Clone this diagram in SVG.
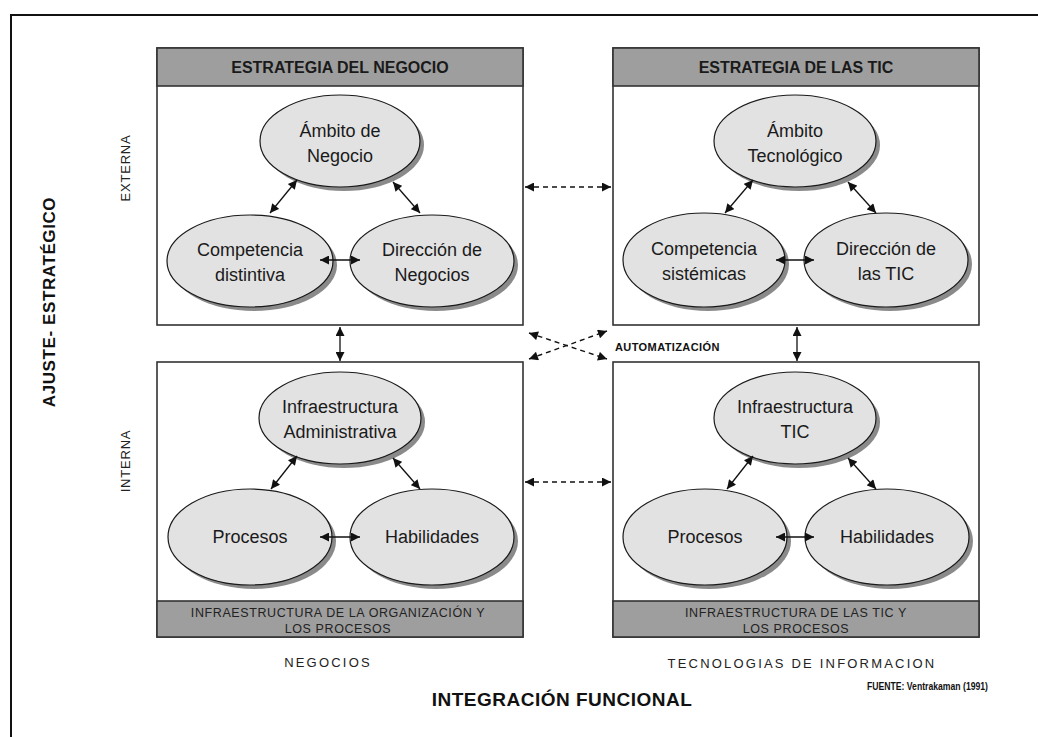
<svg xmlns="http://www.w3.org/2000/svg" width="1038" height="737" viewBox="0 0 1038 737">
<style>
.box{fill:#ffffff;stroke:#333;stroke-width:1.6}
.band{fill:#9e9e9e;stroke:#333;stroke-width:1.6}
.hdr{font-family:"Liberation Sans",Arial,sans-serif;font-weight:bold;font-size:16px;fill:#1a1a1a;text-anchor:middle}
.bandt{font-family:"Liberation Sans",Arial,sans-serif;font-size:12.5px;fill:#222;text-anchor:middle;letter-spacing:0.6px}
.ell{fill:#e2e2e2;stroke:#1a1a1a;stroke-width:1.2}
.shd{fill:#8a8a8a}
.et{font-family:"Liberation Sans",Arial,sans-serif;font-size:18px;fill:#1a1a1a;text-anchor:middle}
.lbl{font-family:"Liberation Sans",Arial,sans-serif;font-size:13px;fill:#222;text-anchor:middle;letter-spacing:0.8px}
.ax{font-family:"Liberation Sans",Arial,sans-serif;font-size:13px;fill:#222;text-anchor:middle;letter-spacing:2.2px}
.big{font-family:"Liberation Sans",Arial,sans-serif;font-weight:bold;fill:#111;text-anchor:middle}
.con{stroke:#111;stroke-width:1.3;fill:none}
.dash{stroke:#111;stroke-width:1.4;fill:none;stroke-dasharray:5 4}
</style>
<defs>
<marker id="ah" viewBox="0 0 10 10" refX="10" refY="5" markerWidth="10" markerHeight="9" markerUnits="userSpaceOnUse" orient="auto-start-reverse">
<path d="M0,0 L10,5 L0,10 z" fill="#111"/>
</marker>
</defs>
<rect x="0" y="0" width="1038" height="737" fill="#ffffff"/>
<path d="M11,737 V15 H1038" fill="none" stroke="#111" stroke-width="2"/>

<g id="labels">
<text class="big" font-size="17" letter-spacing="0.6" transform="translate(55,302) rotate(-90)">AJUSTE- ESTRATÉGICO</text>
<text class="lbl" transform="translate(130,168) rotate(-90)">EXTERNA</text>
<text class="lbl" transform="translate(130,461) rotate(-90)">INTERNA</text>
<text class="ax" x="328" y="667">NEGOCIOS</text>
<text class="ax" x="802" y="668">TECNOLOGIAS DE INFORMACION</text>
<text class="big" font-size="19" letter-spacing="0.5" x="562" y="706">INTEGRACIÓN FUNCIONAL</text>
<text class="big" font-size="10" x="867" y="690" textLength="121" lengthAdjust="spacingAndGlyphs" style="text-anchor:start">FUENTE: Ventrakaman (1991)</text>
<text class="big" font-size="11" letter-spacing="0.4" x="615" y="351" style="text-anchor:start">AUTOMATIZACIÓN</text>
</g>

<g id="box-negocio">
<rect class="box" x="157" y="48" width="366" height="277"/>
<rect class="band" x="157" y="48" width="366" height="38"/>
<text class="hdr" x="340" y="73">ESTRATEGIA DEL NEGOCIO</text>
</g>
<g id="box-tic">
<rect class="box" x="613" y="48" width="366" height="277"/>
<rect class="band" x="613" y="48" width="366" height="38"/>
<text class="hdr" x="796" y="73">ESTRATEGIA DE LAS TIC</text>
</g>
<g id="box-infra-org">
<rect class="box" x="157" y="362" width="366" height="275"/>
<rect class="band" x="157" y="601" width="366" height="36"/>
<text class="bandt" x="338" y="617">INFRAESTRUCTURA DE LA ORGANIZACIÓN Y</text>
<text class="bandt" x="338" y="633">LOS PROCESOS</text>
</g>
<g id="box-infra-tic">
<rect class="box" x="613" y="362" width="366" height="275"/>
<rect class="band" x="613" y="601" width="366" height="36"/>
<text class="bandt" x="796" y="617">INFRAESTRUCTURA DE LAS TIC Y</text>
<text class="bandt" x="796" y="633">LOS PROCESOS</text>
</g>

<g id="ambito-negocio">
<ellipse class="shd" cx="344" cy="145" rx="80" ry="46"/>
<ellipse class="ell" cx="340" cy="141" rx="80" ry="46"/>
<text class="et" x="340" y="137">Ámbito de</text>
<text class="et" x="340" y="162">Negocio</text>
</g>
<g id="competencia-distintiva">
<ellipse class="shd" cx="254" cy="265" rx="83" ry="46"/>
<ellipse class="ell" cx="250" cy="261" rx="83" ry="46"/>
<text class="et" x="250" y="256">Competencia</text>
<text class="et" x="250" y="281">distintiva</text>
</g>
<g id="direccion-negocios">
<ellipse class="shd" cx="436" cy="265" rx="82" ry="46"/>
<ellipse class="ell" cx="432" cy="261" rx="82" ry="46"/>
<text class="et" x="432" y="256">Dirección de</text>
<text class="et" x="432" y="281">Negocios</text>
</g>

<g id="ambito-tecnologico">
<ellipse class="shd" cx="799" cy="145" rx="81" ry="46"/>
<ellipse class="ell" cx="795" cy="141" rx="81" ry="46"/>
<text class="et" x="795" y="137">Ámbito</text>
<text class="et" x="795" y="162">Tecnológico</text>
</g>
<g id="competencia-sistemicas">
<ellipse class="shd" cx="708" cy="264" rx="81" ry="47"/>
<ellipse class="ell" cx="704" cy="260" rx="81" ry="47"/>
<text class="et" x="704" y="255">Competencia</text>
<text class="et" x="704" y="280">sistémicas</text>
</g>
<g id="direccion-tic">
<ellipse class="shd" cx="890" cy="264" rx="82" ry="47"/>
<ellipse class="ell" cx="886" cy="260" rx="82" ry="47"/>
<text class="et" x="886" y="255">Dirección de</text>
<text class="et" x="886" y="280">las TIC</text>
</g>

<g id="infra-administrativa">
<ellipse class="shd" cx="344" cy="422" rx="81" ry="46"/>
<ellipse class="ell" cx="340" cy="418" rx="81" ry="46"/>
<text class="et" x="340" y="413">Infraestructura</text>
<text class="et" x="340" y="438">Administrativa</text>
</g>
<g id="procesos-org">
<ellipse class="shd" cx="254" cy="541" rx="82" ry="48"/>
<ellipse class="ell" cx="250" cy="537" rx="82" ry="48"/>
<text class="et" x="250" y="543">Procesos</text>
</g>
<g id="habilidades-org">
<ellipse class="shd" cx="436" cy="541" rx="82" ry="48"/>
<ellipse class="ell" cx="432" cy="537" rx="82" ry="48"/>
<text class="et" x="432" y="543">Habilidades</text>
</g>

<g id="infra-tic">
<ellipse class="shd" cx="799" cy="422" rx="81" ry="46"/>
<ellipse class="ell" cx="795" cy="418" rx="81" ry="46"/>
<text class="et" x="795" y="413">Infraestructura</text>
<text class="et" x="795" y="438">TIC</text>
</g>
<g id="procesos-tic">
<ellipse class="shd" cx="709" cy="541" rx="82" ry="48"/>
<ellipse class="ell" cx="705" cy="537" rx="82" ry="48"/>
<text class="et" x="705" y="543">Procesos</text>
</g>
<g id="habilidades-tic">
<ellipse class="shd" cx="891" cy="541" rx="82" ry="48"/>
<ellipse class="ell" cx="887" cy="537" rx="82" ry="48"/>
<text class="et" x="887" y="543">Habilidades</text>
</g>

<g id="connectors">
<line class="con" x1="297" y1="180" x2="270" y2="213" marker-start="url(#ah)" marker-end="url(#ah)"/>
<line class="con" x1="393" y1="182" x2="420" y2="213" marker-start="url(#ah)" marker-end="url(#ah)"/>
<line class="con" x1="320" y1="260" x2="360" y2="260" marker-start="url(#ah)" marker-end="url(#ah)"/>
<line class="con" x1="753" y1="180" x2="725" y2="213" marker-start="url(#ah)" marker-end="url(#ah)"/>
<line class="con" x1="848" y1="182" x2="876" y2="213" marker-start="url(#ah)" marker-end="url(#ah)"/>
<line class="con" x1="776" y1="260" x2="814" y2="260" marker-start="url(#ah)" marker-end="url(#ah)"/>
<line class="con" x1="297" y1="456" x2="271" y2="489" marker-start="url(#ah)" marker-end="url(#ah)"/>
<line class="con" x1="393" y1="458" x2="420" y2="489" marker-start="url(#ah)" marker-end="url(#ah)"/>
<line class="con" x1="320" y1="537" x2="360" y2="537" marker-start="url(#ah)" marker-end="url(#ah)"/>
<line class="con" x1="753" y1="456" x2="727" y2="489" marker-start="url(#ah)" marker-end="url(#ah)"/>
<line class="con" x1="848" y1="458" x2="876" y2="489" marker-start="url(#ah)" marker-end="url(#ah)"/>
<line class="con" x1="776" y1="537" x2="814" y2="537" marker-start="url(#ah)" marker-end="url(#ah)"/>
<line class="con" x1="340" y1="327" x2="340" y2="361" marker-start="url(#ah)" marker-end="url(#ah)"/>
<line class="con" x1="797" y1="327" x2="797" y2="361" marker-start="url(#ah)" marker-end="url(#ah)"/>
<line class="dash" x1="525" y1="187" x2="611" y2="187" marker-start="url(#ah)" marker-end="url(#ah)"/>
<line class="dash" x1="525" y1="482" x2="611" y2="482" marker-start="url(#ah)" marker-end="url(#ah)"/>
<line class="dash" x1="529" y1="333" x2="607" y2="359" marker-start="url(#ah)" marker-end="url(#ah)"/>
<line class="dash" x1="529" y1="359" x2="607" y2="331" marker-start="url(#ah)" marker-end="url(#ah)"/>
</g>
</svg>
